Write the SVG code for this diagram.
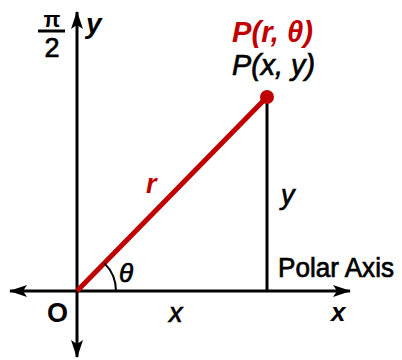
<svg xmlns="http://www.w3.org/2000/svg" width="402" height="360" viewBox="0 0 402 360">
<style>
.t{font-family:"Liberation Sans",Arial,sans-serif}
.m{stroke:#000;stroke-width:0.7}
.ax{stroke:#000;stroke-width:3;fill:none}
</style>
<defs>
<marker id="ah" viewBox="0 0 18 12" refX="17" refY="6" markerWidth="18" markerHeight="12" markerUnits="userSpaceOnUse" orient="auto">
<path d="M0,0 L18,6 L0,12 L4,6 Z" fill="#000"/>
</marker>
</defs>
<rect width="402" height="360" fill="#fff"/>
<g id="connectors">
<line class="ax" x1="77" y1="291" x2="350" y2="291" marker-end="url(#ah)"/>
<line class="ax" x1="77" y1="291" x2="10" y2="291" marker-end="url(#ah)"/>
<line class="ax" x1="77" y1="291" x2="77" y2="12" marker-end="url(#ah)"/>
<line class="ax" x1="77" y1="291" x2="77" y2="357" marker-end="url(#ah)"/>
<line x1="267" y1="97" x2="267" y2="291" stroke="#000" stroke-width="3"/>
<line x1="77" y1="291" x2="267" y2="97" stroke="#c00000" stroke-width="5"/>
<path d="M116,291 A39,39 0 0 0 104.3,263.1" stroke="#000" stroke-width="2" fill="none"/>
</g>
<g id="point">
<circle cx="267" cy="97" r="7" fill="#c00000"/>
<text class="t" x="232" y="42" font-size="29" textLength="81" lengthAdjust="spacingAndGlyphs" font-style="italic" font-weight="bold" fill="#c00000">P(r, θ)</text>
<text class="t m" x="232" y="75" font-size="29" textLength="83" lengthAdjust="spacingAndGlyphs" font-style="italic" fill="#000">P(x, y)</text>
</g>
<g id="labels">
<text class="t" x="146" y="193" font-size="27" font-style="italic" font-weight="bold" fill="#c00000">r</text>
<text class="t m" x="281" y="204" font-size="27" font-style="italic" fill="#000">y</text>
<text class="t m" x="119" y="282" font-size="26" font-style="italic" fill="#000">θ</text>
<text class="t" x="47" y="322" font-size="27" font-weight="bold" fill="#000">O</text>
<text class="t m" x="169" y="322" font-size="27" font-style="italic" fill="#000">x</text>
<text class="t" x="331" y="321" font-size="26" font-style="italic" font-weight="bold" fill="#000">x</text>
<text class="t m" x="278" y="277" font-size="27" textLength="116" lengthAdjust="spacingAndGlyphs" fill="#000">Polar Axis</text>
<text class="t" x="86" y="33" font-size="28" font-style="italic" font-weight="bold" fill="#000">y</text>
<text class="t" x="52" y="27" font-size="22" font-weight="bold" text-anchor="middle" fill="#000">π</text>
<line x1="38" y1="31" x2="65" y2="31" stroke="#000" stroke-width="3"/>
<text class="t m" x="52" y="57" font-size="27" text-anchor="middle" fill="#000">2</text>
</g>
</svg>
